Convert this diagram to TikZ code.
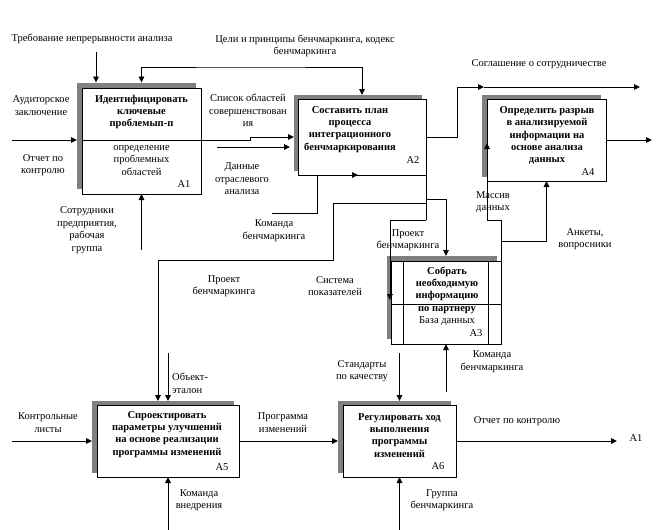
\documentclass[tikz,border=0pt]{standalone}
\usepackage{fontspec}
\setmainfont{Liberation Serif}
\usetikzlibrary{arrows.meta}
\definecolor{shd}{RGB}{128,128,128}
\begin{document}
\begin{tikzpicture}[x=1pt,y=-1pt,
  box/.style={draw, fill=white, line width=0.9pt, inner sep=0pt, outer sep=0pt},
  shadowbox/.style={fill=shd, draw=none, inner sep=0pt, outer sep=0pt},
  ln/.style={line width=0.9pt},
  arr/.style={line width=0.9pt, -{Triangle[length=6pt,width=5.5pt]}},
  arrboth/.style={line width=0.9pt, {Triangle[length=6pt,width=5.5pt]}-{Triangle[length=6pt,width=5.5pt]}},
  lbl/.style={font=\fontsize{10.5}{12.5}\selectfont, align=center, inner sep=0pt},
  ttl/.style={font=\bfseries\fontsize{10.5}{12.2}\selectfont, align=center, inner sep=0pt}
]
\fill[white] (0,0) rectangle (657,530);
\useasboundingbox (0,0) rectangle (657,530);

% shadows
\node[shadowbox, minimum width=119pt, minimum height=106pt] (A1s) at (136.5,135.5) {};
\node[shadowbox, minimum width=128pt, minimum height=76pt] (A2s) at (358,133) {};
\node[shadowbox, minimum width=110pt, minimum height=83pt] (A3s) at (442,297.5) {};
\node[shadowbox, minimum width=119pt, minimum height=82pt] (A4s) at (541.5,136) {};
\node[shadowbox, minimum width=142pt, minimum height=72pt] (A5s) at (163,437) {};
\node[shadowbox, minimum width=113pt, minimum height=72pt] (A6s) at (394.5,437) {};

% boxes
\node[box, minimum width=119pt, minimum height=106pt] (A1) at (141.5,141) {};
\node[box, minimum width=128pt, minimum height=76pt] (A2) at (362,137) {};
\node[box, minimum width=110pt, minimum height=83pt] (A3) at (446,302.5) {};
\node[box, minimum width=119pt, minimum height=82pt] (A4) at (546.5,140) {};
\node[box, minimum width=142pt, minimum height=72pt] (A5) at (168,441) {};
\node[box, minimum width=113pt, minimum height=72pt] (A6) at (399.5,441) {};

% A3 inner lines
\draw[ln] ([xshift=12pt]A3.north west) -- ([xshift=12pt]A3.south west);
\draw[ln] ([xshift=-13pt]A3.north east) -- ([xshift=-13pt]A3.south east);
\draw[ln] ([yshift=-43pt]A3.north west) -- ([yshift=-43pt]A3.north east);

% box texts
\node[ttl] (t1) at (141.5,112) {Идентифицировать\\ключевые\\проблемып-п};
\node[lbl] (t1b) at (141.5,160.5) {определение\\проблемных\\областей};
\node[lbl] (n1) at (184,184) {A1};
\node[ttl] (t2) at (350,129.5) {Составить план\\процесса\\интеграционного\\бенчмаркирования};
\node[lbl] (n2) at (413,160) {A2};
\node[ttl] (t3) at (447,284) {Собрать\\необходимую\\информацию};
\node[ttl] (t3a) at (447,310) {по партнеру};
\node[lbl] (t3b) at (447,321.5) {База данных};
\node[lbl] (n3) at (476,333) {A3};
\node[ttl] (t4) at (547,135.5) {Определить разрыв\\в анализируемой\\информации на\\основе анализа\\данных};
\node[lbl] (n4) at (588,172) {A4};
\node[ttl] (t5) at (167,434.5) {Спроектировать\\параметры улучшений\\на основе реализации\\программы изменений};
\node[lbl] (n5) at (222,467) {A5};
\node[ttl] (t6) at (399.5,435.5) {Регулировать ход\\выполнения\\программы\\изменений};
\node[lbl] (n6) at (438,466) {A6};

% labels
\node[lbl] (L1) at (92,39) {Требование непрерывности анализа};
\node[lbl] (L2) at (305,46) {Цели и принципы бенчмаркинга, кодекс\\бенчмаркинга};
\node[lbl] (L3) at (41,105.5) {Аудиторское\\заключение};
\node[lbl] (L4) at (43,165) {Отчет по\\контролю};
\node[lbl] (L5) at (87,230) {Сотрудники\\предприятия,\\рабочая\\группа};
\node[lbl] (L6) at (248,110.5) {Список областей\\совершенствован\\ия};
\node[lbl] (L7) at (242,179) {Данные\\отраслевого\\анализа};
\node[lbl] (L8) at (274,230.5) {Команда\\бенчмаркинга};
\node[lbl] (L9) at (539,64) {Соглашение о сотрудничестве};
\node[lbl] (L10) at (408,240) {Проект\\бенчмаркинга};
\node[lbl] (L11) at (493,202) {Массив\\данных};
\node[lbl] (L12) at (585,239) {Анкеты,\\вопросники};
\node[lbl] (L13) at (335,286) {Система\\показателей};
\node[lbl] (L14) at (224,286) {Проект\\бенчмаркинга};
\node[lbl, align=left, anchor=west] (L15) at (172,383.5) {Объект-\\эталон};
\node[lbl] (L16) at (362,371) {Стандарты\\по качеству};
\node[lbl] (L17) at (492,361.5) {Команда\\бенчмаркинга};
\node[lbl] (L18) at (48,422.5) {Контрольные\\листы};
\node[lbl] (L19) at (283,422.5) {Программа\\изменений};
\node[lbl] (L20) at (517,421) {Отчет по контролю};
\node[lbl] (L21) at (636,438) {A1};
\node[lbl] (L22) at (199,500) {Команда\\внедрения};
\node[lbl] (L23) at (442,500) {Группа\\бенчмаркинга};

% free ends and bends
\coordinate (c1) at (96,52);
\coordinate (topbar) at (250,67);
\coordinate (m1) at (141.5,250);
\coordinate (i1) at (12,140);
\coordinate (o1) at (250,137);
\coordinate (d2) at (217,147);
\coordinate (m2) at (272,213);
\coordinate (m2b) at (317,213);
\coordinate (o2a) at (457,87);
\coordinate (o2mid) at (484,87);
\coordinate (o2end) at (640,87);
\coordinate (o4) at (652,140);
\coordinate (j1) at (426,199);
\coordinate (j2) at (426,203);
\coordinate (j3) at (426,220);
\coordinate (p1) at (333,260);
\coordinate (p2) at (158,260);
\coordinate (p3) at (390,300);
\coordinate (q1) at (501,220);
\coordinate (q2) at (487,143);
\coordinate (r1) at (501,241);
\coordinate (m3) at (446,392);
\coordinate (c5) at (168,353);
\coordinate (c6) at (399.5,353);
\coordinate (i5) at (12,441);
\coordinate (o6) at (617,441);
\coordinate (m5) at (168,530);
\coordinate (m6) at (399.5,530);

% connectors
\draw[arr] (c1) -- (c1 |- A1s.north);
\draw[arrboth] (A1s.north -| A1.north) |- (topbar) -| (A2s.north -| A2.north);
\draw[arr] (m1) -- (A1.south);
\draw[arr] (i1) -- (i1 -| A1s.west);
\draw[ln] (i1 -| A1.west) -- (i1 -| A1.east);
\draw[arr] (i1 -| A1.east) -- (i1 -| o1) -- (o1) -- (o1 -| A2s.west);
\draw[arr] (d2) -- ([xshift=-4pt]d2 -| A2s.west);
\draw[ln] (m2) -- (m2b) -- (m2b |- A2.south);
\draw[arr] (m2b |- A2.south) -- ([xshift=41pt]m2b |- A2.south);
\draw[arr] (A2.east) -| (o2a) -- (o2mid);
\draw[arr] (o2mid) -- (o2end);
\draw[arr] (A4.east) -- (o4);
\draw[ln] (A2.south east) -- (j3);
\draw[arr] (j1) -| (A3s.north -| A3.north);
\draw[arr] (j2) -| (p1) -- (p2) -- (p2 |- A5s.north);
\draw[arr] (j3) -| (p3);
\draw[arr] (A3.north east) -- (q1) -| (q2);
\draw[arr] (r1) -| (A4.south);
\draw[arr] (m3) -- (m3 |- A3.south);
\draw[arr] (c5) -- (c5 |- A5s.north);
\draw[arr] (c6) -- (c6 |- A6s.north);
\draw[arr] (i5) -- (i5 -| A5s.west);
\draw[arr] (A5.east) -- (A5.east -| A6s.west);
\draw[arr] (A6.east) -- (o6);
\draw[arr] (m5) -- (A5.south);
\draw[arr] (m6) -- (A6.south);
\end{tikzpicture}
\end{document}
